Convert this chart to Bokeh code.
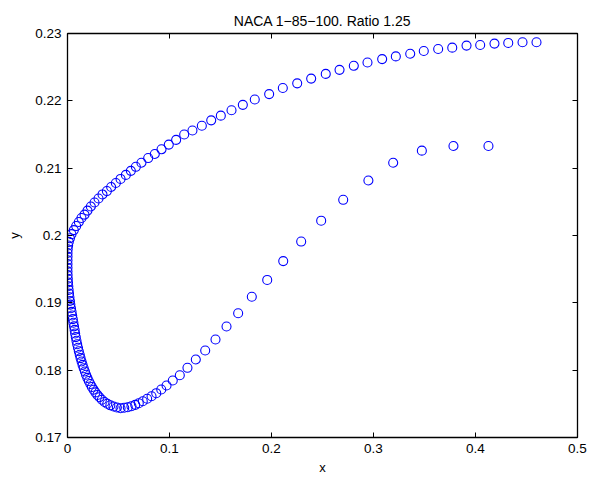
from bokeh.plotting import figure
from bokeh.models import Range1d, FixedTicker, LinearAxis
from bokeh.embed import file_html
from bokeh.resources import INLINE

# Upper surface, trailing edge -> leading edge
upper_x = [0.4598, 0.4461, 0.4321, 0.4186, 0.4046, 0.3912, 0.3772, 0.3634, 0.3493, 0.3360,
           0.3219, 0.3085, 0.2941, 0.2807, 0.2667, 0.2532, 0.2389, 0.2252, 0.2111, 0.1977,
           0.1836, 0.1719, 0.1608, 0.1503, 0.1409, 0.1317, 0.1225, 0.1144, 0.1065, 0.0993,
           0.0922, 0.0856, 0.0791, 0.0725, 0.0670, 0.0621, 0.0572, 0.0520, 0.0474, 0.0428,
           0.0386, 0.0343, 0.0304, 0.0265, 0.0229, 0.0196, 0.0167, 0.0137, 0.0111, 0.0085,
           0.0062, 0.0039, 0.0024, 0.0013, 0.0006, 0.0002, 0.0000, 0.0000, 0.0000, 0.0000]
upper_y = [0.2287, 0.2287, 0.2286, 0.2285, 0.2283, 0.2282, 0.2279, 0.2277, 0.2274, 0.2270,
           0.2266, 0.2262, 0.2257, 0.2252, 0.2246, 0.2240, 0.2233, 0.2226, 0.2219, 0.2210,
           0.2202, 0.2194, 0.2186, 0.2178, 0.2171, 0.2163, 0.2156, 0.2150, 0.2142, 0.2135,
           0.2128, 0.2121, 0.2115, 0.2108, 0.2102, 0.2096, 0.2090, 0.2084, 0.2078, 0.2072,
           0.2066, 0.2061, 0.2055, 0.2049, 0.2043, 0.2037, 0.2031, 0.2026, 0.2020, 0.2014,
           0.2008, 0.2002, 0.1996, 0.19906, 0.19851, 0.19796, 0.19741, 0.19686, 0.19632, 0.19577]

# Lower surface, leading edge -> trailing edge
lower_x = [0.0000, 0.0000, 0.0001, 0.0003, 0.0005, 0.0008, 0.0011, 0.0015, 0.0019, 0.0024,
           0.0028, 0.0034, 0.0040, 0.0046, 0.0052, 0.0058, 0.0064, 0.0070, 0.0075, 0.0081,
           0.0088, 0.0095, 0.0103, 0.0111, 0.0120, 0.0128, 0.0138, 0.0148, 0.0159, 0.0171,
           0.0182, 0.0195, 0.0209, 0.0224, 0.0239, 0.0256, 0.0274, 0.0293, 0.0314, 0.0337,
           0.0363, 0.0390, 0.0420, 0.0451, 0.0484, 0.0520, 0.0556, 0.0591, 0.0627, 0.0664,
           0.0699, 0.0738, 0.0781, 0.0824, 0.0870, 0.0919, 0.0971, 0.1032, 0.1101, 0.1176,
           0.1258, 0.1350, 0.1451, 0.1559, 0.1673, 0.1807, 0.1958, 0.2115, 0.2291, 0.2487,
           0.2703, 0.2950, 0.3193, 0.3474, 0.3784, 0.4127]
lower_y = [0.19522, 0.19467, 0.19412, 0.19357, 0.19302, 0.19247, 0.19192, 0.19137, 0.19082, 0.19027,
           0.18974, 0.18919, 0.18865, 0.18812, 0.18758, 0.18705, 0.18651, 0.18598, 0.18544, 0.18491,
           0.18437, 0.18385, 0.18333, 0.18281, 0.18229, 0.18179, 0.18128, 0.18078, 0.18029, 0.17980,
           0.17932, 0.17885, 0.17839, 0.17794, 0.17751, 0.17710, 0.17670, 0.17632, 0.17597, 0.17561,
           0.17528, 0.17502, 0.17478, 0.17460, 0.17445, 0.17435, 0.17441, 0.17450, 0.17465, 0.17485,
           0.17509, 0.17539, 0.17575, 0.17613, 0.17658, 0.17713, 0.17772, 0.17846, 0.17925, 0.18035,
           0.18158, 0.18292, 0.18455, 0.18648, 0.18846, 0.19090, 0.19340, 0.19620, 0.19910, 0.20220,
           0.20530, 0.20817, 0.21080, 0.21260, 0.21330, 0.21330]

x_ticks = [0, 0.1, 0.2, 0.3, 0.4, 0.5]
x_tick_labels = ["0", "0.1", "0.2", "0.3", "0.4", "0.5"]
y_ticks = [0.17, 0.18, 0.19, 0.2, 0.21, 0.22, 0.23]
y_tick_labels = ["0.17", "0.18", "0.19", "0.2", "0.21", "0.22", "0.23"]

FONT = "Liberation Sans"

p = figure(frame_width=510, frame_height=404, output_backend="svg", toolbar_location=None,
           x_range=Range1d(0, 0.5), y_range=Range1d(0.17, 0.23),
           min_border_left=67, min_border_right=13, min_border_top=33, min_border_bottom=40,
           title="NACA 1\u221285\u2212100. Ratio 1.25")

p.title.align = "center"
p.title.text_font = FONT
p.title.text_font_size = "14px"
p.title.text_font_style = "normal"
p.title.text_color = "black"

p.xgrid.visible = False
p.ygrid.visible = False
p.outline_line_color = "black"
p.outline_line_width = 1
p.background_fill_color = "white"
p.border_fill_color = "white"

def style(ax, ticks, labels, show_labels):
    ax.ticker = FixedTicker(ticks=ticks)
    ax.major_label_overrides = {t: l for t, l in zip(ticks, labels)}
    ax.major_tick_in = 5
    ax.major_tick_out = 0
    ax.minor_tick_in = 0
    ax.minor_tick_out = 0
    ax.axis_line_color = "black"
    ax.axis_line_width = 1.3
    ax.major_tick_line_color = "black"
    ax.major_tick_line_width = 1
    ax.major_label_text_font = FONT
    ax.major_label_text_font_size = "13.5px" if show_labels else "0px"
    ax.major_label_text_color = "black"
    ax.major_label_standoff = 6
    ax.axis_label_text_font = FONT
    ax.axis_label_text_font_size = "13px"
    ax.axis_label_text_font_style = "normal"
    ax.axis_label_text_color = "black"

style(p.xaxis[0], x_ticks, x_tick_labels, True)
style(p.yaxis[0], y_ticks, y_tick_labels, True)
p.xaxis[0].axis_label = "x"
p.yaxis[0].axis_label = "y"
p.xaxis[0].axis_label_standoff = 4
p.yaxis[0].axis_label_standoff = 10

top = LinearAxis()
style(top, x_ticks, ["" for _ in x_ticks], False)
p.add_layout(top, "above")
right = LinearAxis()
style(right, y_ticks, ["" for _ in y_ticks], False)
p.add_layout(right, "right")

p.scatter(upper_x, upper_y, marker="circle", size=9, fill_color=None,
          line_color="#0000ff", line_width=1.1)
p.scatter(lower_x, lower_y, marker="circle", size=9, fill_color=None,
          line_color="#0000ff", line_width=1.1)

open("out.html", "w").write(file_html(p, INLINE))
